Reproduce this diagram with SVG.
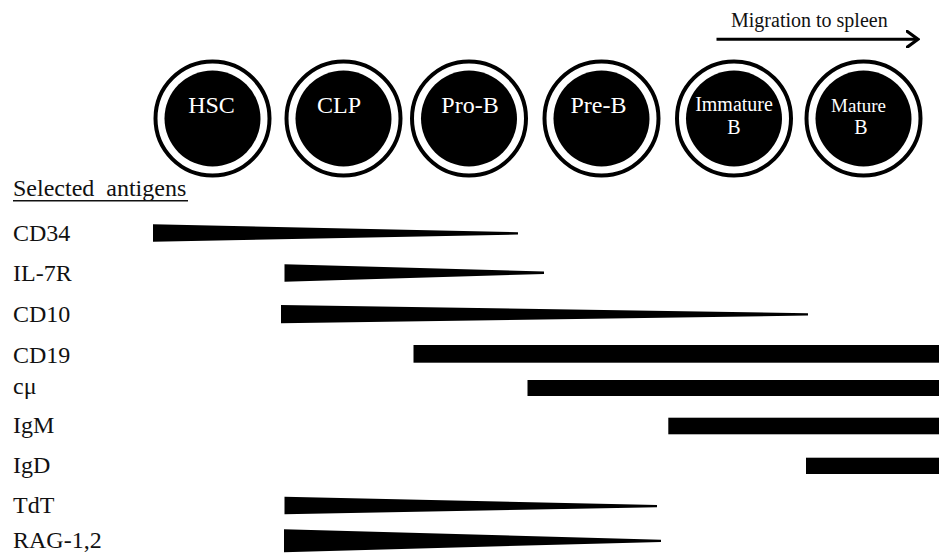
<svg xmlns="http://www.w3.org/2000/svg" width="939" height="559" viewBox="0 0 939 559">
  <defs>
    <style>
      .ring { fill: #fff; stroke: #000; stroke-width: 4; }
      .core { fill: #000; }
      .cell { font-family: "Liberation Serif", "Times New Roman", serif; font-size: 24px; fill: #fff; text-anchor: middle; }
      .cell-sm { font-family: "Liberation Serif", "Times New Roman", serif; font-size: 20px; fill: #fff; text-anchor: middle; }
      .lbl { font-family: "Liberation Serif", "Times New Roman", serif; font-size: 24px; fill: #111; }
      .cap { font-family: "Liberation Serif", "Times New Roman", serif; font-size: 20px; fill: #111; }
      .bar { fill: #000; }
    </style>
    <marker id="openArrow" viewBox="0 0 14 18" refX="12" refY="9" markerWidth="14" markerHeight="18" markerUnits="userSpaceOnUse" orient="auto">
      <path d="M1,1 L12,9 L1,17" fill="none" stroke="#000" stroke-width="3.2" stroke-linecap="round" stroke-linejoin="miter"/>
    </marker>
  </defs>
  <rect width="939" height="559" fill="#fff"/>

  <!-- nodes: cell stages -->
  <g id="node-hsc">
    <circle class="ring" cx="212.5" cy="118.5" r="57"/>
    <circle class="core" cx="212.5" cy="118.5" r="48"/>
    <text class="cell" x="211.5" y="113">HSC</text>
  </g>
  <g id="node-clp">
    <circle class="ring" cx="343.5" cy="118.5" r="57"/>
    <circle class="core" cx="343.5" cy="118.5" r="48"/>
    <text class="cell" x="339" y="113">CLP</text>
  </g>
  <g id="node-prob">
    <circle class="ring" cx="469" cy="118.5" r="57"/>
    <circle class="core" cx="469" cy="118.5" r="48"/>
    <text class="cell" x="470" y="113">Pro-B</text>
  </g>
  <g id="node-preb">
    <circle class="ring" cx="601.5" cy="118.5" r="57"/>
    <circle class="core" cx="601.5" cy="118.5" r="48"/>
    <text class="cell" x="598.5" y="113">Pre-B</text>
  </g>
  <g id="node-immature">
    <circle class="ring" cx="734" cy="118.5" r="57"/>
    <circle class="core" cx="734" cy="118.5" r="48"/>
    <text class="cell-sm" x="734" y="111">Immature</text>
    <text class="cell-sm" x="734" y="133.5">B</text>
  </g>
  <g id="node-mature">
    <circle class="ring" cx="863.5" cy="118.5" r="57"/>
    <circle class="core" cx="863.5" cy="118.5" r="48"/>
    <text class="cell-sm" x="858.5" y="112" style="font-size:19px">Mature</text>
    <text class="cell-sm" x="861" y="133.5">B</text>
  </g>

  <!-- connectors -->
  <g id="connectors">
    <line x1="716.5" y1="39.3" x2="918" y2="39.3" stroke="#000" stroke-width="3" marker-end="url(#openArrow)"/>
    <text class="cap" x="731" y="27">Migration to spleen</text>
  </g>

  <!-- heading -->
  <g id="heading">
    <text class="lbl" x="13" y="196" xml:space="preserve">Selected  antigens</text>
    <line x1="13" y1="200.8" x2="188" y2="200.8" stroke="#111" stroke-width="1.4"/>
  </g>

  <!-- antigen rows -->
  <g id="row-cd34">
    <text class="lbl" x="13" y="241">CD34</text>
    <polygon class="bar" points="153,224.3 518,232.3 518,234.5 153,241.7"/>
  </g>
  <g id="row-il7r">
    <text class="lbl" x="13" y="281">IL-7R</text>
    <polygon class="bar" points="284.5,264.3 544,271.5 544,274 284.5,281.7"/>
  </g>
  <g id="row-cd10">
    <text class="lbl" x="13" y="322">CD10</text>
    <polygon class="bar" points="281,305 808,313.2 808,315.5 281,323.3"/>
  </g>
  <g id="row-cd19">
    <text class="lbl" x="13" y="362.5">CD19</text>
    <rect class="bar" x="413.5" y="345" width="525.5" height="17.7"/>
  </g>
  <g id="row-cmu">
    <text class="lbl" x="13" y="394">cμ</text>
    <rect class="bar" x="527.5" y="380" width="411.5" height="16"/>
  </g>
  <g id="row-igm">
    <text class="lbl" x="13" y="433">IgM</text>
    <rect class="bar" x="668.3" y="417.7" width="270.7" height="16.6"/>
  </g>
  <g id="row-igd">
    <text class="lbl" x="13" y="473">IgD</text>
    <rect class="bar" x="806" y="457.7" width="133" height="16.3"/>
  </g>
  <g id="row-tdt">
    <text class="lbl" x="13" y="513">TdT</text>
    <polygon class="bar" points="284.5,496.7 657,505 657,507.2 284.5,514.3"/>
  </g>
  <g id="row-rag">
    <text class="lbl" x="13" y="548">RAG-1,2</text>
    <polygon class="bar" points="284,529.3 661,539.7 661,541.9 284,552.3"/>
  </g>
</svg>
